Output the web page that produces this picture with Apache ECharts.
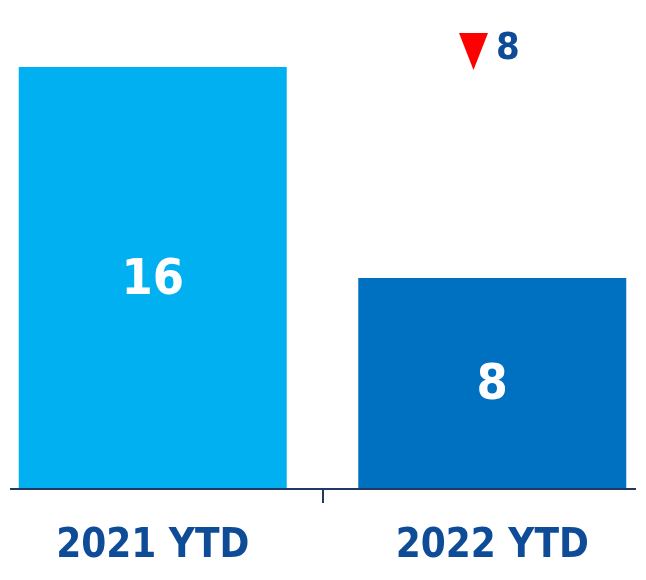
<!DOCTYPE html>
<html>
<head>
<meta charset="utf-8">
<script src="https://cdn.jsdelivr.net/npm/echarts@6/dist/echarts.min.js"></script>
<style>
    html, body { margin: 0; padding: 0; background: #fff; }
    #chart { width: 646px; height: 580px; }
</style>
</head>
<body>
<div id="chart"></div>
<script>
    // data
    let categories = ['2021 YTD', '2022 YTD'];
    let values = [16, 8];
    let barColors = ['#00B0F0', '#0070C0'];
    let changeText = String(values[0] - values[1]);

    let navy = '#0F4C97';
    let axisColor = '#1F3864';
    let font = '"DejaVu Sans Condensed", "Liberation Sans Narrow", sans-serif';

    let myChart = echarts.init(document.getElementById('chart'));
    let option = {
        animation: false,
        grid: { left: -17, right: -16, top: 14.25, bottom: 91, outerBoundsMode: 'none', containLabel: false },
        xAxis: {
            type: 'category',
            data: categories,
            axisLine: { show: false },
            axisTick: { show: true, length: 14, lineStyle: { color: axisColor, width: 2 } },
            axisLabel: {
                margin: 38,
                color: navy,
                fontFamily: font,
                fontWeight: 'bold',
                fontSize: 40
            }
        },
        yAxis: {
            type: 'value',
            min: 0,
            max: 18,
            show: false,
            splitLine: { show: false }
        },
        series: [{
            type: 'bar',
            barWidth: 268,
            data: values.map((v, i) => ({ value: v, itemStyle: { color: barColors[i] } })),
            label: {
                show: true,
                position: 'inside',
                offset: [0, 3],
                color: '#fff',
                fontFamily: font,
                fontWeight: 'bold',
                fontSize: 50
            }
        }],
        graphic: [
            // baseline, shorter than the plot area like the original
            {
                type: 'line',
                shape: { x1: 10, y1: 489, x2: 636, y2: 489 },
                style: { stroke: axisColor, lineWidth: 2 },
                z: 10
            },
            {
                type: 'polygon',
                shape: { points: [[459, 33], [488, 33], [473.5, 70]] },
                style: { fill: '#FF0000' }
            },
            {
                type: 'text',
                left: 496,
                top: 30,
                style: {
                    text: changeText,
                    fill: navy,
                    font: 'bold 38px ' + font
                }
            }
        ]
    };
    myChart.setOption(option);
</script>
</body>
</html>
